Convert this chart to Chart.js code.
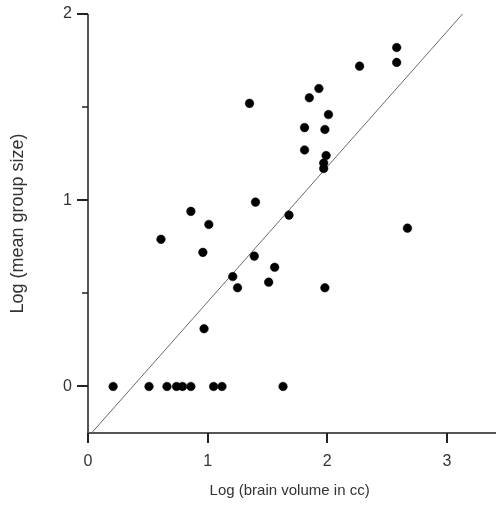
<!DOCTYPE html>
<html>
<head>
<meta charset="utf-8">
<script src="https://cdn.jsdelivr.net/npm/chart.js@4"></script>
<style>
html,body{margin:0;padding:0;background:#fff;}
canvas{display:block;}
</style>
</head>
<body>
<canvas id="c" width="496" height="506"></canvas>
<script>
// Data
const brainVolumeLog = [0.21,0.51,0.66,0.74,0.79,0.86,1.05,1.12,1.63,
  0.97,0.61,0.86,1.01,0.96,1.21,1.25,1.39,1.40,1.51,1.56,1.68,
  1.98,2.67,1.35,1.81,1.81,1.85,1.93,1.98,2.01,1.97,1.97,1.99,2.27,2.58,2.58];
const groupSizeLog = [0,0,0,0,0,0,0,0,0,
  0.31,0.79,0.94,0.87,0.72,0.59,0.53,0.70,0.99,0.56,0.64,0.92,
  0.53,0.85,1.52,1.27,1.39,1.55,1.60,1.38,1.46,1.17,1.20,1.24,1.72,1.74,1.82];
const fitLineX = [0.03, 3.13];
const fitLineY = [-0.25, 2.0];
const xTickValues = [0,1,2,3];
const yTickValues = [0,0.5,1,1.5,2];
const xTitle = 'Log (brain volume in cc)';
const yTitle = 'Log (mean group size)';

const points = brainVolumeLog.map((x,i)=>({x:x,y:groupSizeLog[i]}));
const linePts = fitLineX.map((x,i)=>({x:x,y:fitLineY[i]}));

const axisPlugin = {
  id:'axisPlugin',
  afterDraw(chart){
    const {ctx, chartArea:a, scales:{x,y}} = chart;
    ctx.save();
    ctx.strokeStyle = '#555';
    ctx.lineWidth = 2;
    ctx.beginPath();
    ctx.moveTo(a.left, a.top);
    ctx.lineTo(a.left, a.bottom);
    ctx.moveTo(a.left-1, a.bottom);
    ctx.lineTo(chart.width, a.bottom);
    ctx.stroke();
    ctx.strokeStyle = '#222';
    xTickValues.forEach(v=>{
      const px = Math.round(x.getPixelForValue(v));
      ctx.lineWidth = 2;
      ctx.beginPath();
      ctx.moveTo(px, a.bottom);
      ctx.lineTo(px, a.bottom+10);
      ctx.stroke();
    });
    yTickValues.forEach(v=>{
      const py = Math.round(y.getPixelForValue(v));
      const major = Number.isInteger(v);
      ctx.lineWidth = major ? 2 : 1.5;
      ctx.beginPath();
      ctx.moveTo(a.left - (major?11:6), py);
      ctx.lineTo(a.left, py);
      ctx.stroke();
    });
    ctx.restore();
  }
};

new Chart(document.getElementById('c'), {
  data:{
    datasets:[
      {type:'scatter', data:points, backgroundColor:'#000', borderColor:'#000',
       pointRadius:4.3, pointBorderWidth:0.5, pointStyle:'circle', order:1},
      {type:'line', data:linePts, borderColor:'#6a6a6a', borderWidth:1,
       pointRadius:0, fill:false, order:2}
    ]
  },
  options:{
    responsive:false,
    devicePixelRatio:1,
    animation:false,
    layout:{padding:{top:14,right:0,bottom:0,left:0}},
    plugins:{legend:{display:false},tooltip:{enabled:false}},
    scales:{
      x:{type:'linear', position:'bottom', min:0, max:3.37,
        afterFit(s){s.height = 73; s.paddingLeft = 0; s.paddingRight = 0;},
        afterBuildTicks(s){s.ticks = xTickValues.map(v=>({value:v}));},
        grid:{display:false, drawTicks:false}, border:{display:false},
        ticks:{padding:19, color:'#333', font:{family:'Liberation Sans, Arial, sans-serif', size:16},
          maxRotation:0, autoSkip:false, callback:v=>String(v)},
        title:{display:true, text:xTitle, color:'#333',
          font:{family:'Liberation Sans, Arial, sans-serif', size:15}, padding:{top:0,bottom:6}}
      },
      y:{type:'linear', min:-0.25, max:2,
        afterFit(s){s.width = 88; s.paddingTop = 0; s.paddingBottom = 0;},
        afterBuildTicks(s){s.ticks = yTickValues.map(v=>({value:v}));},
        grid:{display:false, drawTicks:false}, border:{display:false},
        ticks:{padding:16, color:'#333', font:{family:'Liberation Sans, Arial, sans-serif', size:16},
          autoSkip:false, callback:v=>Number.isInteger(v)?String(v):''},
        title:{display:true, text:yTitle, color:'#333',
          font:{family:'Liberation Sans, Arial, sans-serif', size:18}, padding:{top:7,bottom:0}}
      }
    }
  },
  plugins:[axisPlugin]
});
</script>
</body>
</html>
